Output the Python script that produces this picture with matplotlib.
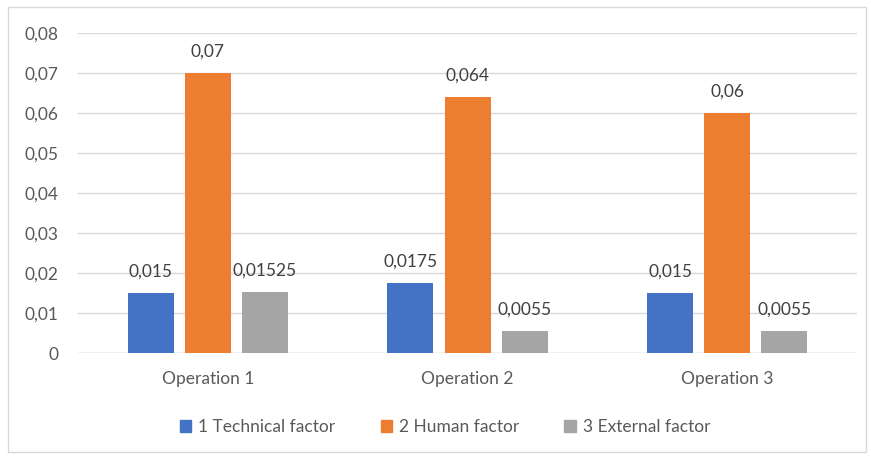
import matplotlib.pyplot as plt
import numpy as np
from matplotlib.patches import Patch, Rectangle

# Data
operations = ['Operation 1', 'Operation 2', 'Operation 3']
series_names = ['1 Technical factor', '2 Human factor', '3 External factor']
technical = [0.015, 0.0175, 0.015]
human = [0.07, 0.064, 0.06]
external = [0.01525, 0.0055, 0.0055]
colors = ['#4472C4', '#ED7D31', '#A5A5A5']

plt.rcParams['font.family'] = ['Lato', 'DejaVu Sans']

fig = plt.figure(figsize=(8.71, 4.58), dpi=100)
ax = fig.add_axes([0.0896, 0.229, 0.8944, 0.699])

x = np.arange(len(operations))
width = 0.177
step = 0.22
for i, (vals, col) in enumerate(zip([technical, human, external], colors)):
    pos = x + (i - 1) * step
    ax.bar(pos, vals, width=width, color=col, zorder=3)
    for p, v in zip(pos, vals):
        ax.text(p, v + 0.0033, str(v).replace('.', ','), ha='center', va='bottom',
                fontsize=12.5, color='#404040')

ax.set_xlim(-0.5, 2.5)
ax.set_ylim(0, 0.08)
ax.set_yticks(np.arange(0, 0.081, 0.01))
ax.set_yticklabels(['0'] + [f'{t:.2f}'.replace('.', ',') for t in np.arange(0.01, 0.081, 0.01)])
ax.set_xticks(x)
ax.set_xticklabels(operations)
ax.tick_params(axis='both', length=0, labelsize=12.5, labelcolor='#595959')
ax.tick_params(axis='y', pad=14)
ax.tick_params(axis='x', pad=13)
ax.grid(axis='y', color='#D9D9D9', linewidth=1, zorder=0)
for s in ax.spines.values():
    s.set_visible(False)
ax.axhline(0, color='#D9D9D9', linewidth=1, zorder=2)

handles = [Patch(facecolor=c, edgecolor=c) for c in colors]
fig.legend(handles, series_names, loc='center', bbox_to_anchor=(0.511, 0.068), ncol=3,
           frameon=False, fontsize=12.5, labelcolor='#595959', handlelength=0.65,
           handleheight=0.65, handletextpad=0.4, columnspacing=2.6)

# chart border
fig.patches.append(Rectangle((0.009, 0.013), 0.985, 0.972, transform=fig.transFigure,
                             fill=False, edgecolor='#D9D9D9', linewidth=1))

fig.savefig('out.png', dpi=100)
